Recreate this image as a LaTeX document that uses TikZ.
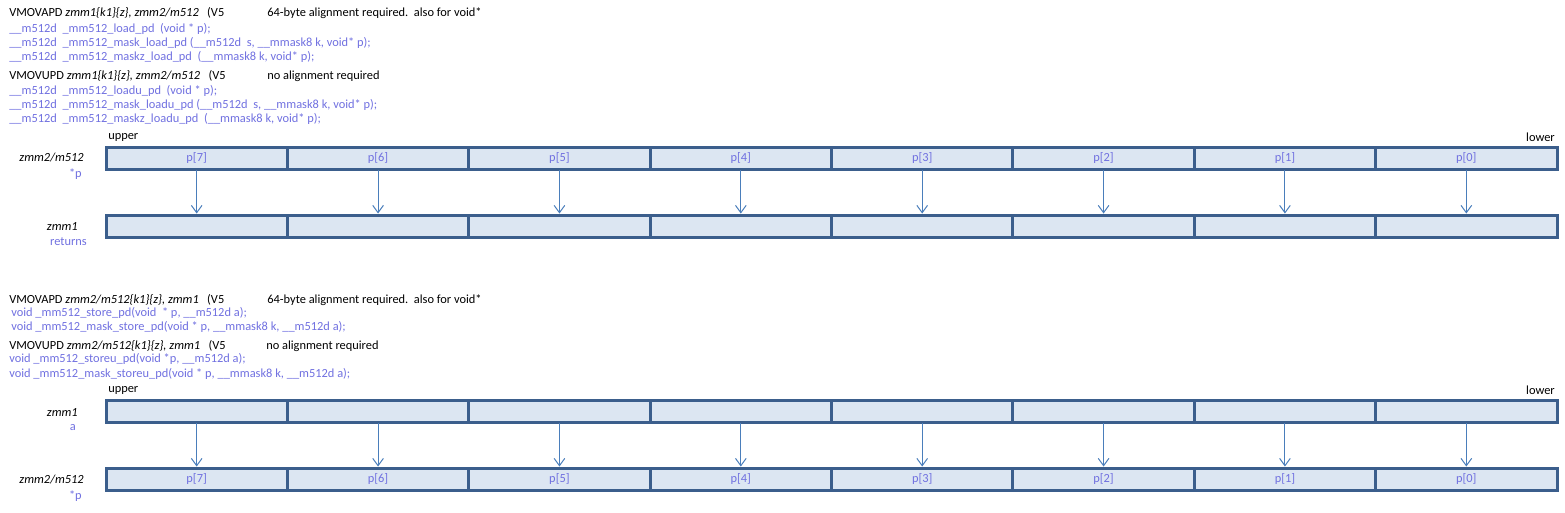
\documentclass[tikz,border=0pt]{standalone}
\usepackage{fontspec}
\setmainfont{Carlito}
\usetikzlibrary{arrows.meta}
\definecolor{tblue}{HTML}{7070E0}
\definecolor{cellborder}{HTML}{3B5E8C}
\definecolor{cellfill}{HTML}{DCE6F2}
\definecolor{arrblue}{HTML}{4A7EBB}
\begin{document}
\begin{tikzpicture}[x=0.75pt,y=-0.75pt,
  txt/.style={anchor=west,inner sep=0,font=\fontsize{9.3}{11}\selectfont},
  btxt/.style={txt,text=tblue},
  rtxt/.style={anchor=east,inner sep=0,font=\fontsize{9.3}{11}\selectfont},
  cell/.style={draw=cellborder,fill=cellfill,line width=2.25pt,anchor=north west,
    minimum width=136.03pt,minimum height=16.5pt,inner sep=0,outer sep=0,text=tblue,
    font=\fontsize{9.3}{11}\selectfont},
  arr/.style={draw=arrblue,line width=0.75pt,shorten >=1.1pt,shorten <=1.1pt,
    -{Straight Barb[length=5.5pt,width=8pt,line width=0.75pt]}}]
\useasboundingbox (0,0) rectangle (1565,512);

% ---------- top section text ----------
\node[txt] (t1) at (9,13) {VMOVAPD \textit{zmm1\{k1\}\{z\}, zmm2/m512}\ \ \ (V5};
\node[txt] (t1b) at (267,13) {64-byte alignment required.\ \ also for void*};
\node[btxt] (t2) at (9,29) {\_\_m512d\ \ \_mm512\_load\_pd\ \ (void * p);};
\node[btxt] (t3) at (9,43) {\_\_m512d\ \ \_mm512\_mask\_load\_pd (\_\_m512d\ \ s, \_\_mmask8 k, void* p);};
\node[btxt] (t4) at (9,57) {\_\_m512d\ \ \_mm512\_maskz\_load\_pd\ \ (\_\_mmask8 k, void* p);};
\node[txt] (t5) at (9,76) {VMOVUPD \textit{zmm1\{k1\}\{z\}, zmm2/m512}\ \ \ (V5};
\node[txt] (t5b) at (267,76) {no alignment required};
\node[btxt] (t6) at (9,91) {\_\_m512d\ \ \_mm512\_loadu\_pd\ \ (void * p);};
\node[btxt] (t7) at (9,105) {\_\_m512d\ \ \_mm512\_mask\_loadu\_pd (\_\_m512d\ \ s, \_\_mmask8 k, void* p);};
\node[btxt] (t8) at (9,119) {\_\_m512d\ \ \_mm512\_maskz\_loadu\_pd\ \ (\_\_mmask8 k, void* p);};

\node[txt] (up1) at (108,137) {upper};
\node[rtxt] (lo1) at (1555,137) {lower};
\node[rtxt] (l1) at (84,158) {\textit{zmm2/m512}};
\node[rtxt,text=tblue] (l2) at (82,174) {*p};
\node[rtxt] (l3) at (78,227) {\textit{zmm1}};
\node[rtxt,text=tblue] (l4) at (87,242) {returns};

% ---------- bottom section text ----------
\node[txt] (s1) at (9,300) {VMOVAPD \textit{zmm2/m512\{k1\}\{z\}, zmm1}\ \ \ (V5};
\node[txt] (s1b) at (267,300) {64-byte alignment required.\ \ also for void*};
\node[btxt] (s2) at (11,313) {void \_mm512\_store\_pd(void\ \ * p, \_\_m512d a);};
\node[btxt] (s3) at (11,327) {void \_mm512\_mask\_store\_pd(void * p, \_\_mmask8 k, \_\_m512d a);};
\node[txt] (s4) at (9,346) {VMOVUPD \textit{zmm2/m512\{k1\}\{z\}, zmm1}\ \ \ (V5};
\node[txt] (s4b) at (266,346) {no alignment required};
\node[btxt] (s5) at (9,359) {void \_mm512\_storeu\_pd(void *p, \_\_m512d a);};
\node[btxt] (s6) at (9,374) {void \_mm512\_mask\_storeu\_pd(void * p, \_\_mmask8 k, \_\_m512d a);};

\node[txt] (up2) at (108,390) {upper};
\node[rtxt] (lo2) at (1555,390) {lower};
\node[rtxt] (m1) at (78,412) {\textit{zmm1}};
\node[rtxt,text=tblue] (m2) at (76,428) {a};
\node[rtxt] (m3) at (84,480) {\textit{zmm2/m512}};
\node[rtxt,text=tblue] (m4) at (82,496) {*p};

% ---------- registers ----------
\foreach \i/\l in {0/7,1/6,2/5,3/4,4/3,5/2,6/1,7/0}{
  \node[cell] (a\i) at ({106+181.375*\i},147) {p[\l]};
  \node[cell] (b\i) at ({106+181.375*\i},215) {};
  \node[cell] (c\i) at ({106+181.375*\i},400) {};
  \node[cell] (d\i) at ({106+181.375*\i},468) {p[\l]};
}
\foreach \i in {0,...,7}{
  \draw[arr] (a\i.south) -- (b\i.north);
  \draw[arr] (c\i.south) -- (d\i.north);
}
\end{tikzpicture}
\end{document}
